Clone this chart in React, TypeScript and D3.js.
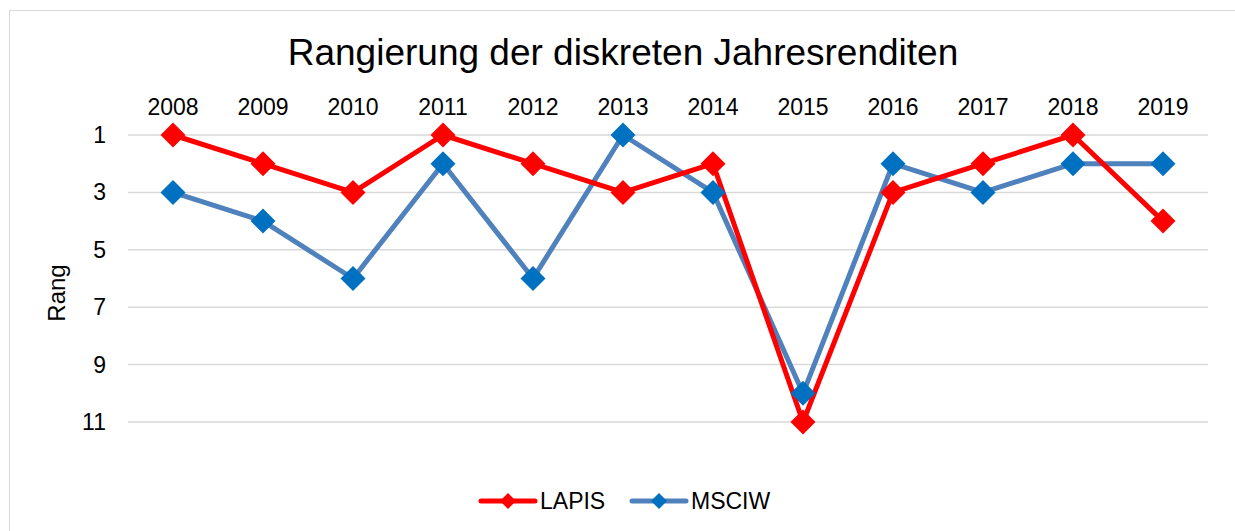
import React from "react";
import * as d3 from "d3";

const years = ["2008", "2009", "2010", "2011", "2012", "2013", "2014", "2015", "2016", "2017", "2018", "2019"];
const lapis = [1, 2, 3, 1, 2, 3, 2, 11, 3, 2, 1, 4];
const msciw = [3, 4, 6, 2, 6, 1, 3, 10, 2, 3, 2, 2];
const yTicks = [1, 3, 5, 7, 9, 11];

const W = 1235;
const H = 531;
const plotLeft = 128;
const plotRight = 1208;
const plotTop = 135;
const plotBottom = 422;

export default function App() {
  const x = d3.scaleBand<string>().domain(years).range([plotLeft, plotRight]);
  const y = d3.scaleLinear().domain([1, 11]).range([plotTop, plotBottom]);
  const cx = (d: string) => (x(d) as number) + x.bandwidth() / 2;
  const line = d3
    .line<number>()
    .x((_, i) => cx(years[i]))
    .y((v) => y(v));
  const font = "Arial, 'Liberation Sans', sans-serif";
  const series = [
    { name: "LAPIS", data: lapis, line: "#FF0000", marker: "#FF0000" },
    { name: "MSCIW", data: msciw, line: "#4F81BD", marker: "#0070C0" },
  ];
  const drawOrder = [series[1], series[0]];
  const diamond = (px: number, py: number, r: number) =>
    `M${px},${py - r}L${px + r},${py}L${px},${py + r}L${px - r},${py}Z`;

  return (
    <svg width={W} height={H} style={{ position: "absolute", left: 0, top: 0 }} fontFamily={font}>
      <rect x={0} y={0} width={W} height={H} fill="#fff" />
      <rect x={9.5} y={10.5} width={W - 9} height={H} fill="#fff" stroke="#D9D9D9" strokeWidth={1} />
      <text x={623} y={65} textAnchor="middle" fontSize={37} fill="#000">
        Rangierung der diskreten Jahresrenditen
      </text>
      {yTicks.map((t) => (
        <g key={t}>
          <line x1={plotLeft} x2={plotRight} y1={y(t)} y2={y(t)} stroke="#D9D9D9" strokeWidth={1.5} />
          <text x={106} y={y(t) + 8} textAnchor="end" fontSize={23} fill="#000">
            {t}
          </text>
        </g>
      ))}
      {years.map((yr) => (
        <text key={yr} x={cx(yr)} y={115} textAnchor="middle" fontSize={23} fill="#000">
          {yr}
        </text>
      ))}
      <text
        transform={`translate(65,293) rotate(-90)`}
        textAnchor="middle"
        fontSize={24}
        fill="#000"
      >
        Rang
      </text>
      {drawOrder.map((s) => (
        <path key={s.name} d={line(s.data) as string} fill="none" stroke={s.line} strokeWidth={5} strokeLinejoin="round" strokeLinecap="round" />
      ))}
      {series.map((s) => (
        <g key={s.name}>
          {s.data.map((v, i) => (
            <path key={i} d={diamond(cx(years[i]), y(v), 12.5)} fill={s.marker} />
          ))}
        </g>
      ))}
      {series.map((s, i) => {
        const lx = 481 + i * 151;
        const ly = 501;
        return (
          <g key={s.name}>
            <line x1={lx} x2={lx + 54} y1={ly} y2={ly} stroke={s.line} strokeWidth={5} strokeLinecap="round" />
            <path d={diamond(lx + 27, ly, 8)} fill={s.marker} />
            <text x={lx + 59} y={ly + 8} fontSize={23} fill="#000">
              {s.name}
            </text>
          </g>
        );
      })}
    </svg>
  );
}
